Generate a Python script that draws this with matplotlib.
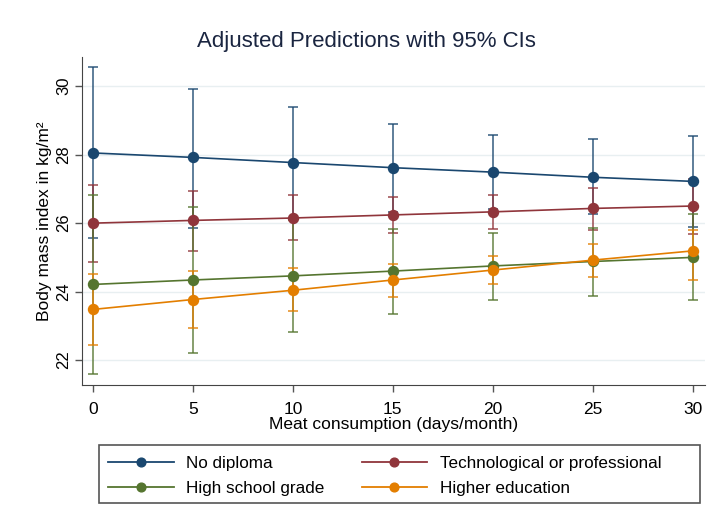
import numpy as np
import matplotlib.pyplot as plt
from matplotlib.lines import Line2D
from matplotlib.patches import Rectangle

plt.rcParams['font.family'] = ['Liberation Sans', 'DejaVu Sans']

# Datos
days = [0, 5, 10, 15, 20, 25, 30]

no_dipl = [28.05, 27.92, 27.77, 27.62, 27.49, 27.34, 27.22]
no_dipl_lo = [25.56, 25.87, 26.14, 26.34, 26.41, 26.27, 25.90]
no_dipl_hi = [30.55, 29.93, 29.40, 28.90, 28.57, 28.45, 28.54]

techno = [26.00, 26.08, 26.15, 26.24, 26.33, 26.43, 26.50]
techno_lo = [24.86, 25.20, 25.50, 25.72, 25.84, 25.81, 25.68]
techno_hi = [27.11, 26.95, 26.82, 26.75, 26.82, 27.03, 27.30]

highsch = [24.21, 24.34, 24.46, 24.60, 24.75, 24.88, 25.00]
highsch_lo = [21.58, 22.21, 22.83, 23.36, 23.75, 23.87, 23.75]
highsch_hi = [26.82, 26.46, 26.10, 25.84, 25.72, 25.87, 26.26]

higher = [23.48, 23.77, 24.04, 24.34, 24.63, 24.92, 25.19]
higher_lo = [22.45, 22.94, 23.42, 23.85, 24.21, 24.43, 24.35]
higher_hi = [24.51, 24.59, 24.69, 24.82, 25.05, 25.38, 25.81]

labels = ['No diploma', 'Technological or professional',
          'High school grade', 'Higher education']
colors = ['#1a476f', '#90353b', '#55752f', '#e37e00']

series = [(no_dipl, no_dipl_lo, no_dipl_hi),
          (techno, techno_lo, techno_hi),
          (highsch, highsch_lo, highsch_hi),
          (higher, higher_lo, higher_hi)]

W, H = 710, 519
fig = plt.figure(figsize=(W / 100, H / 100), dpi=100, facecolor='white')
ax = fig.add_axes([0.1155, 0.258, 0.877, 0.632])

# Intervalos de confianza primero
for (y, lo, hi), c in zip(series, colors):
    y = np.array(y)
    err = [y - np.array(lo), np.array(hi) - y]
    ax.errorbar(days, y, yerr=err, fmt='none', ecolor=c, alpha=0.7,
                elinewidth=1.4, capsize=3.35, capthick=1.4, zorder=2)

# Líneas con puntos
for (y, lo, hi), c, lab in zip(series, colors, labels):
    ax.plot(days, y, '-o', color=c, lw=1.2, markersize=7.2, zorder=3, label=lab)

ax.set_xlim(-0.55, 30.6)
ax.set_ylim(21.27, 30.85)
ax.set_xticks([0, 5, 10, 15, 20, 25, 30])
ax.set_yticks([22, 24, 26, 28, 30])
ax.tick_params(axis='y', labelrotation=90, labelsize=12, length=5, width=1.0,
               color='#555555', pad=3)
ax.tick_params(axis='x', labelsize=12.5, length=5, width=1.0,
               color='#555555', pad=7.5)
for lbl in ax.get_yticklabels():
    lbl.set_va('center')
ax.grid(axis='y', color='#e8eff1', lw=1.0, zorder=0)
ax.set_axisbelow(True)
for s in ['top', 'right']:
    ax.spines[s].set_visible(False)
for s in ['left', 'bottom']:
    ax.spines[s].set_color('#444444')

ax.set_xlabel('Meat consumption (days/month)', fontsize=12.5, labelpad=0)
ax.set_ylabel('Body mass index in kg/m²', fontsize=12.5, labelpad=2.5)
fig.text(366 / W, 1 - 41 / H, 'Adjusted Predictions with 95% CIs', fontsize=16,
         color='#1a2540', ha='center', va='center')

# Leyenda (orden por filas)
order = [0, 2, 1, 3]
handles = [Line2D([], [], color=colors[i], lw=1.3, marker='o', markersize=6.3) for i in order]
leg = fig.legend(handles, [labels[i] for i in order], loc='upper left',
                 bbox_to_anchor=(91.5 / W, 1 - 440 / H), ncol=2, fontsize=12.3,
                 frameon=False, handlelength=3.85, handletextpad=0.73,
                 columnspacing=2.18, borderpad=0.45, labelspacing=0.6)
fig.patches.append(Rectangle((99.3 / W, 1 - 503 / H), (700 - 99.3) / W, 58 / H,
                             transform=fig.transFigure, fill=False,
                             edgecolor='#555555', lw=1.2))

plt.savefig('out.png', dpi=100, facecolor='white')
